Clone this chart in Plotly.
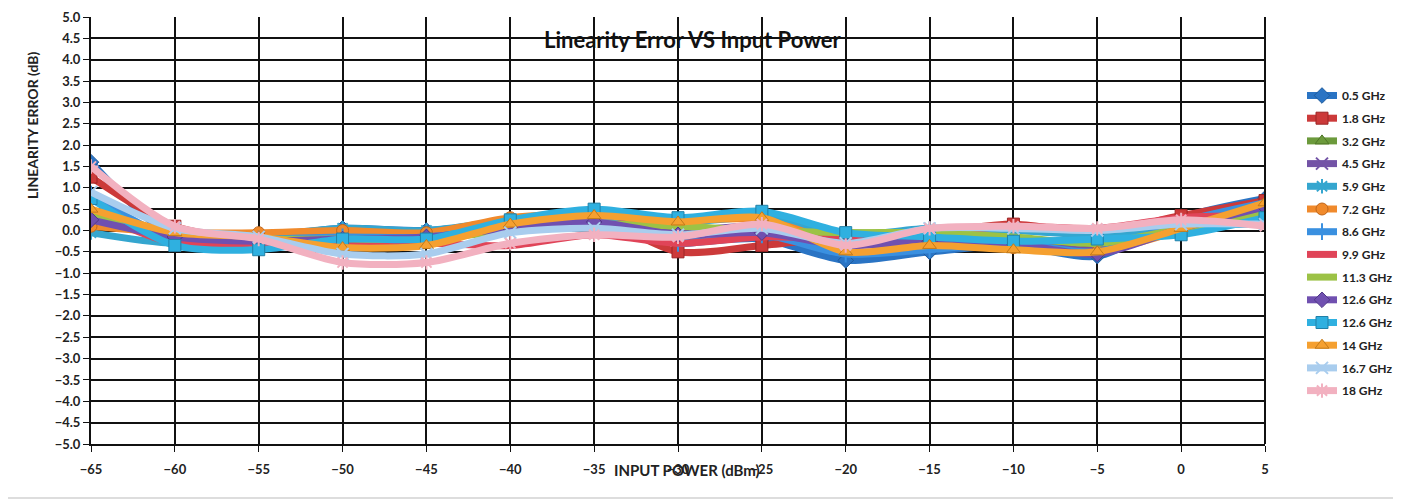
import plotly.graph_objects as go

input_power = [-65, -60, -55, -50, -45, -40, -35, -30, -25, -20, -15, -10, -5, 0, 5]

series_names = ["0.5 GHz", "1.8 GHz", "3.2 GHz", "4.5 GHz", "5.9 GHz", "7.2 GHz", "8.6 GHz",
                "9.9 GHz", "11.3 GHz", "12.6 GHz", "12.6 GHz", "14 GHz", "16.7 GHz", "18 GHz"]

err_0p5 = [1.6, -0.15, -0.15, 0.05, 0.0, 0.2, 0.3, -0.25, -0.2, -0.7, -0.5, -0.35, -0.6, 0.3, 0.75]
err_1p8 = [1.25, 0.1, -0.2, -0.15, -0.1, 0.1, 0.3, -0.5, -0.35, -0.15, -0.05, 0.15, -0.05, 0.35, 0.7]
err_3p2 = [0.35, -0.1, -0.15, -0.1, -0.1, 0.1, 0.25, 0.05, -0.05, -0.05, -0.1, -0.2, -0.3, 0.05, 0.45]
err_4p5 = [0.3, -0.15, -0.2, -0.1, -0.1, 0.15, 0.3, 0.0, 0.1, -0.3, -0.2, -0.3, -0.45, 0.1, 0.5]
err_5p9 = [-0.05, -0.3, -0.15, 0.05, 0.0, 0.25, 0.45, 0.2, 0.3, -0.1, 0.05, 0.0, -0.1, 0.1, 0.15]
err_7p2 = [0.1, -0.05, -0.05, 0.0, -0.05, 0.3, 0.4, 0.25, 0.25, -0.3, -0.3, -0.4, -0.5, 0.0, 0.6]
err_8p6 = [0.85, -0.2, -0.2, -0.15, -0.15, 0.1, 0.3, -0.3, -0.1, -0.55, -0.45, -0.3, -0.5, 0.2, 0.65]
err_9p9 = [0.45, -0.3, -0.3, -0.3, -0.3, -0.35, -0.1, -0.3, -0.15, -0.2, -0.05, 0.1, 0.05, 0.3, 0.35]
err_11p3 = [0.4, -0.1, -0.2, -0.2, -0.2, 0.0, 0.15, 0.1, 0.0, -0.05, -0.05, -0.15, -0.3, 0.05, 0.4]
err_12p6a = [0.25, -0.15, -0.25, -0.2, -0.15, 0.05, 0.2, -0.1, -0.05, -0.35, -0.25, -0.3, -0.55, 0.05, 0.55]
err_12p6b = [0.75, -0.35, -0.45, -0.2, -0.2, 0.25, 0.5, 0.3, 0.45, -0.05, -0.15, -0.25, -0.2, -0.1, 0.3]
err_14 = [0.5, -0.05, -0.15, -0.4, -0.35, 0.15, 0.35, 0.2, 0.3, -0.5, -0.35, -0.45, -0.5, 0.05, 0.65]
err_16p7 = [0.9, 0.05, -0.15, -0.55, -0.55, -0.05, 0.05, -0.1, 0.05, -0.3, 0.05, 0.05, 0.0, 0.15, 0.15]
err_18 = [1.5, 0.1, -0.2, -0.75, -0.75, -0.3, -0.1, -0.15, 0.15, -0.35, 0.05, 0.1, 0.05, 0.25, 0.1]

all_series = [err_0p5, err_1p8, err_3p2, err_4p5, err_5p9, err_7p2, err_8p6,
              err_9p9, err_11p3, err_12p6a, err_12p6b, err_14, err_16p7, err_18]

colors = ["#2a74c4", "#cc3a3a", "#6c9a3c", "#7353a6", "#35a6cf", "#f08a2c", "#3a90e0",
          "#e04458", "#9cc246", "#7050b0", "#2fb0e0", "#f5a030", "#a9cdee", "#f2b1c0"]
edge = ["#1d5a9c", "#9c2525", "#4f7628", "#53397f", "#2a82a3", "#c0661a", "#2a6cb0",
        "#b02a3c", "#76972e", "#503888", "#2080a8", "#c27a1a", "#7fa8d0", "#d48a9a"]
symbols = ["diamond", "square", "triangle-up", "x-thin-open", "asterisk-open", "circle",
           "cross-thin-open", "line-ew-open", "line-ew-open", "diamond", "square",
           "triangle-up", "x-thin-open", "asterisk-open"]

# page body has an 8px margin; compensate so the plot area lands at x 91..1265, y 17..444
W, H = 1393, 494
ML, MR, MT, MB = 83, 136, 9, 58
PW, PH = W - ML - MR, H - MT - MB
OFF = 8


def px_x(x):
    return (x - OFF - ML) / PW


def px_y(y):
    return (H - MB - (y - OFF)) / PH


fig = go.Figure()
for i, (name, vals, c, e, s) in enumerate(zip(series_names, all_series, colors, edge, symbols)):
    is_open = s.endswith("-open")
    fig.add_trace(go.Scatter(
        x=input_power, y=vals, name=name, mode="lines+markers", legendgroup=f"g{i}",
        line=dict(color=c, width=7, shape="spline", smoothing=0.8),
        marker=dict(symbol=s, size=12, color=c,
                    line=dict(color=c if is_open else e, width=2 if is_open else 1)),
    ))

fig.update_layout(
    width=W, height=H,
    margin=dict(l=ML, r=MR, t=MT, b=MB, autoexpand=False),
    paper_bgcolor="white", plot_bgcolor="white",
    font=dict(family="Lato, Liberation Sans, sans-serif", color="#222"),
    showlegend=True,
    legend=dict(x=px_x(1302), y=px_y(81), xanchor="left", yanchor="top",
                font=dict(size=12, weight="bold", color="#222"),
                bgcolor="rgba(0,0,0,0)", itemwidth=30, tracegroupgap=3.7),
    xaxis=dict(range=[-65, 5], tickmode="array", tickvals=input_power, automargin=False,
               showgrid=True, gridcolor="#111", gridwidth=2,
               showline=True, linecolor="#111", linewidth=2,
               ticks="outside", ticklen=6, tickcolor="#111", ticklabelstandoff=6,
               tickfont=dict(size=13, weight="bold", color="#222"),
               zeroline=False),
    yaxis=dict(range=[-5, 5], tickmode="linear", tick0=-5, dtick=0.5, tickformat=".1f",
               automargin=False,
               showgrid=True, gridcolor="#111", gridwidth=2,
               showline=True, linecolor="#111", linewidth=2,
               ticks="outside", ticklen=6, tickcolor="#111",
               tickfont=dict(size=13, weight="bold", color="#222"),
               zeroline=False),
)

# right border of plot area
fig.add_shape(type="line", xref="paper", yref="paper", x0=1, x1=1, y0=0, y1=1,
              line=dict(color="#111", width=2))
# outer chart border
fig.add_shape(type="rect", xref="paper", yref="paper",
              x0=px_x(5), x1=px_x(1395), y0=px_y(498), y1=px_y(5),
              line=dict(color="#bbb", width=1))

fig.add_annotation(text="<b>Linearity Error VS Input Power</b>", xref="paper", yref="paper",
                   x=px_x(692), y=px_y(40), xanchor="center", yanchor="middle", showarrow=False,
                   font=dict(size=22, color="#111"))
fig.add_annotation(text="<b>INPUT POWER (dBm)</b>", xref="paper", yref="paper",
                   x=px_x(687), y=px_y(470), xanchor="center", yanchor="middle", showarrow=False,
                   font=dict(size=15, color="#222"))
fig.add_annotation(text="<b>LINEARITY ERROR (dB)</b>", xref="paper", yref="paper",
                   x=px_x(33), y=px_y(125), xanchor="center", yanchor="middle", showarrow=False,
                   textangle=-90, font=dict(size=14, color="#222"))

fig.write_html("out.html")
